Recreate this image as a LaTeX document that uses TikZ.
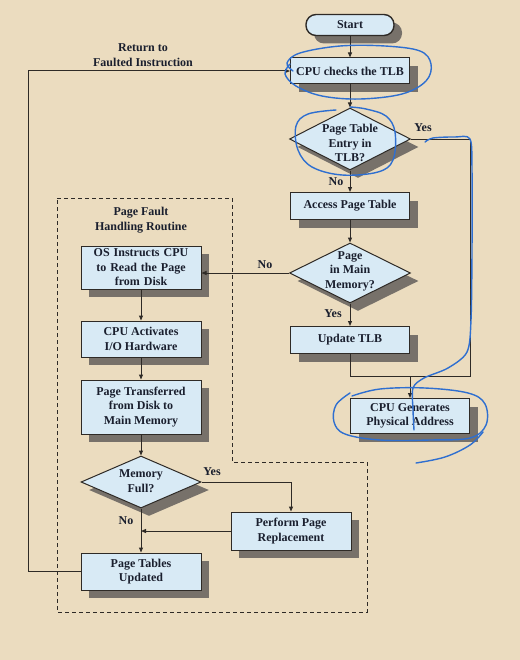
\documentclass[tikz,border=0pt]{standalone}
\usepackage{fontspec}
\setmainfont{Liberation Serif}
\usetikzlibrary{arrows.meta,shapes.geometric,shadows}
\definecolor{bgc}{HTML}{EBDCBF}
\definecolor{boxc}{HTML}{D8EAF5}
\definecolor{shc}{HTML}{6B6661}
\definecolor{txtc}{HTML}{1A1F2E}
\definecolor{linec}{HTML}{2E2A26}
\definecolor{penc}{HTML}{2F6FD0}
\tikzset{
  every node/.style={font=\fontsize{12bp}{14.5bp}\selectfont\bfseries, text=txtc},
  shad/.style={drop shadow={shadow xshift=8bp,shadow yshift=-8bp,fill=shc,opacity=0.9}},
  procbox/.style={draw=linec, line width=1bp, fill=boxc, shad, align=center, inner sep=0pt},
  startbox/.style={draw=linec, line width=1.4bp, fill=boxc, shad, rounded corners=10bp, minimum width=88bp, minimum height=21bp, inner sep=0pt},
  dia/.style={diamond, draw=linec, line width=1bp, fill=boxc, shad, inner sep=0pt, minimum width=121bp, minimum height=62bp},
  diatext/.style={align=center, inner sep=0pt},
  lbl/.style={inner sep=0pt},
  conn/.style={draw=linec, line width=1bp},
  arr/.style={conn, -{Triangle[length=5bp,width=4bp]}},
  region/.style={draw=linec, line width=1bp, dash pattern=on 4bp off 3bp},
  pen/.style={draw=penc, line width=1.4bp, line cap=round, line join=round}
}
\begin{document}
\begin{tikzpicture}[x=1bp,y=-1bp]
\fill[bgc] (0,0) rectangle (520,660);
\useasboundingbox (0,0) rectangle (520,660);

% dashed region
\draw[region] (57,198) -- (232,198) -- (232,462) -- (367,462) -- (367,612) -- (57,612) -- cycle;

% nodes
\node[startbox] (start) at (350,25) {Start};
\node[procbox, minimum width=119bp, minimum height=26bp] (cpu) at (350,71) {CPU checks the TLB};
\node[dia] (d1) at (350,139) {};
\node[diatext] (d1t) at (350,143) {Page Table\\Entry in\\TLB?};
\node[procbox, minimum width=119bp, minimum height=27bp] (acc) at (350,206) {Access Page Table};
\node[dia, minimum height=60bp] (d2) at (350,273) {};
\node[diatext] (d2t) at (350,271) {Page\\in Main\\Memory?};
\node[procbox, minimum width=119bp, minimum height=27bp] (upd) at (350,340) {Update TLB};
\node[procbox, minimum width=119bp, minimum height=35bp] (gen) at (410,416) {CPU Generates\\Physical Address};

\node[lbl, align=center] (ret) at (143,55) {Return to\\Faulted Instruction};
\node[lbl, align=center] (pfh) at (141,220) {Page Fault\\Handling Routine};

\node[procbox, minimum width=120bp, minimum height=43bp, text width=118bp] (os) at (141,267.5) {OS Instructs CPU\\to Read the Page\\from Disk};
\node[procbox, minimum width=120bp, minimum height=36bp] (act) at (141,339) {CPU Activates\\I/O Hardware};
\node[procbox, minimum width=120bp, minimum height=54bp] (trans) at (141,407) {Page Transferred\\from Disk to\\Main Memory};
\node[dia, minimum width=120bp, minimum height=52bp] (d3) at (141,482) {};
\node[diatext] (d3t) at (141,481) {Memory\\Full?};
\node[procbox, minimum width=120bp, minimum height=38bp] (perf) at (291,531) {Perform Page\\Replacement};
\node[procbox, minimum width=120bp, minimum height=37bp] (ptu) at (141,571.5) {Page Tables\\Updated};

% labels
\node[lbl] (y1) at (423,128) {Yes};
\node[lbl] (n1) at (336,182) {No};
\node[lbl] (n2) at (265,265) {No};
\node[lbl] (y2) at (333,314) {Yes};
\node[lbl] (y3) at (212,472) {Yes};
\node[lbl] (n3) at (126,521) {No};

% coordinates
\coordinate (rc) at (470,376);
\coordinate (j) at (410,376);
\coordinate (m) at (141,531);
\coordinate (lb) at (28,571.5);

% connectors
\draw[arr] (start) -- (cpu);
\draw[arr] (cpu) -- (d1.north);
\draw[arr] (d1.south) -- (acc);
\draw[conn] (d1.east) -| (rc) -- (j);
\draw[conn] (upd.south) |- (j);
\draw[arr] (j) -- (gen.north);
\draw[arr] (acc) -- (d2.north);
\draw[arr] (d2.west) -- (d2.west -| os.east);
\draw[arr] (d2.south) -- (upd);
\draw[arr] (os) -- (act);
\draw[arr] (act) -- (trans);
\draw[arr] (trans) -- (d3.north);
\draw[arr] (d3.east) -| (perf.north);
\draw[arr] (d3.south) -- (ptu);
\draw[arr] (perf.west) -- (m);
\draw[arr] (ptu.west) -- (lb) |- (cpu.west);

% hand-drawn pen annotations
\draw[pen] plot[smooth, tension=0.6] coordinates {(293,71) (287,63) (300,53) (340,46) (385,46) (420,51) (431,64) (426,81) (402,94) (360,99) (322,96) (296,86) (285,74) (290,64)};
\draw[pen] plot[smooth, tension=0.6] coordinates {(336,110) (308,114) (296,126) (298,150) (312,167) (342,175) (378,172) (393,160) (395,132) (386,116) (366,109) (350,107)};
\draw[pen] plot[smooth, tension=0.5] coordinates {(425,142) (433,138) (455,137) (470,139) (472,170) (472,250) (471,320) (467,352) (448,368) (424,378) (413,388) (413,410) (414,430)};
\draw[pen] plot[smooth, tension=0.6] coordinates {(350,393) (336,405) (334,422) (345,434) (380,440) (430,440) (470,438) (486,425) (485,404) (468,393) (425,388) (380,389) (352,396)};
\draw[pen] plot[smooth, tension=0.6] coordinates {(483,432) (470,445) (445,457) (416,463)};
\end{tikzpicture}
\end{document}
